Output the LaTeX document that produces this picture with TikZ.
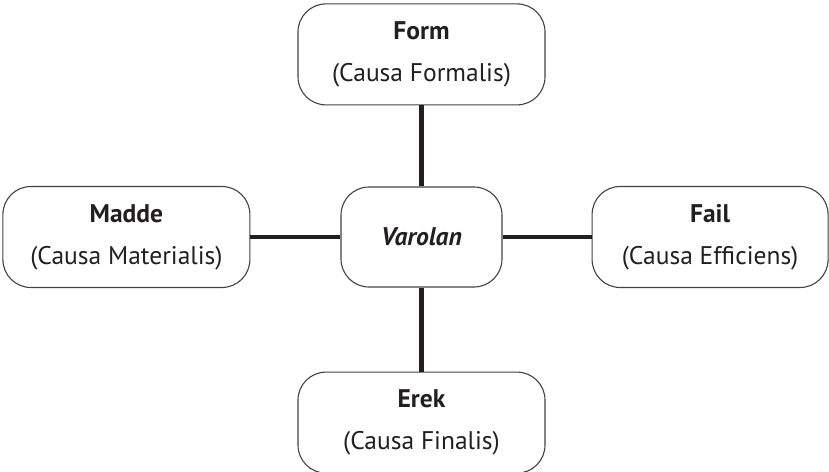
\documentclass[tikz,border=0pt]{standalone}
\usepackage{fontspec}
\setmainfont{PT Sans}
\usepackage{xcolor}
\usetikzlibrary{positioning}
\definecolor{ink}{HTML}{231F20}

\begin{document}
\begin{tikzpicture}[%
    x=1pt,
    y=-1pt,
    line width=4.8pt,
    draw=ink,
    text=ink,
    cause/.style={%
      rectangle,
      rounded corners=28pt,
      draw=ink!85,
      line width=1.1pt,
      minimum width=247pt,
      minimum height=101pt,
      align=center,
      font=\fontsize{25.5}{30}\selectfont
    },
    hub/.style={%
      cause,
      minimum width=161pt,
      minimum height=100pt
    }
  ]
    \useasboundingbox (0,0) rectangle (829,471);

    \node[hub] (varolan) at (421.5,237)                 {\textbf{\textit{Varolan}}};
    \node[cause] (form)  [above=81pt of varolan]          {\textbf{Form}\\[12pt](Causa Formalis)};
    \node[cause] (erek)  [below=84pt of varolan]          {\textbf{Erek}\\[12pt](Causa Finalis)};
    \node[cause] (madde) [left=90pt of varolan]           {\textbf{Madde}\\[12pt](Causa Materialis)};
    \node[cause, minimum width=236pt] (fail) [right=89pt of varolan] {\textbf{Fail}\\[12pt](Causa Efficiens)};

    \path (varolan) edge (form)
          (varolan) edge (erek)
          (varolan) edge (madde)
          (varolan) edge (fail)
          ;
  \end{tikzpicture}
\end{document}
